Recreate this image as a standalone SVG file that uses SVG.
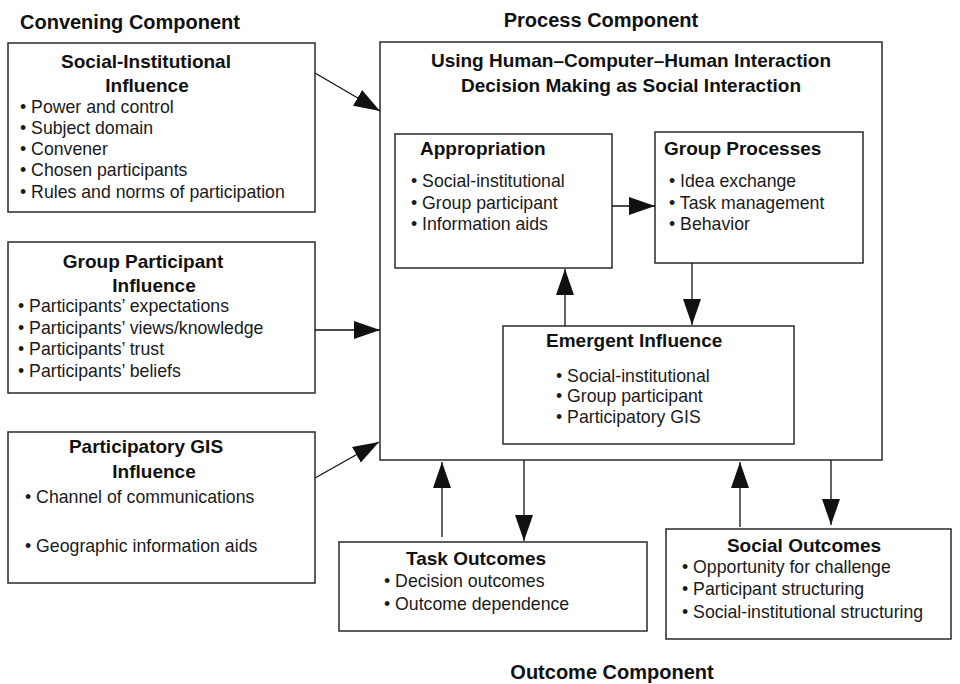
<svg xmlns="http://www.w3.org/2000/svg" width="960" height="684" viewBox="0 0 960 684">
  <style>
    .box { fill: #ffffff; stroke: #2a2a2a; stroke-width: 1.5; }
    .hdr { font-family: "Liberation Sans", Arial, sans-serif; font-size: 20px; font-weight: bold; fill: #111; }
    .ttl { font-family: "Liberation Sans", Arial, sans-serif; font-size: 19px; font-weight: bold; fill: #111; }
    .itm { font-family: "Liberation Sans", Arial, sans-serif; font-size: 17.7px; fill: #1a1a1a; }
    .mid { text-anchor: middle; }
    .link { stroke: #111; stroke-width: 1.3; fill: none; marker-end: url(#head); }
  </style>
  <defs>
    <marker id="head" markerUnits="userSpaceOnUse" markerWidth="26" markerHeight="18" refX="26" refY="9" orient="auto">
      <path d="M0,0 L26,9 L0,18 z" fill="#111"/>
    </marker>
  </defs>

  <rect width="960" height="684" fill="#ffffff"/>

  <!-- section headings -->
  <g id="headings">
    <text class="hdr" x="20" y="29">Convening Component</text>
    <text class="hdr mid" x="601" y="27">Process Component</text>
    <text class="hdr mid" x="612" y="679">Outcome Component</text>
  </g>

  <!-- convening inputs -->
  <g id="social-institutional">
    <rect class="box" x="8" y="43" width="307" height="169"/>
    <text class="ttl mid" x="146" y="68">Social-Institutional</text>
    <text class="ttl mid" x="147" y="92">Influence</text>
    <text class="itm" x="20" y="113">• Power and control</text>
    <text class="itm" x="20" y="134">• Subject domain</text>
    <text class="itm" x="20" y="155">• Convener</text>
    <text class="itm" x="20" y="176">• Chosen participants</text>
    <text class="itm" x="20" y="198">• Rules and norms of participation</text>
  </g>

  <g id="group-participant">
    <rect class="box" x="8" y="242" width="307" height="151"/>
    <text class="ttl mid" x="143" y="268">Group Participant</text>
    <text class="ttl mid" x="154" y="292">Influence</text>
    <text class="itm" x="18" y="312">• Participants’ expectations</text>
    <text class="itm" x="18" y="334">• Participants’ views/knowledge</text>
    <text class="itm" x="18" y="355">• Participants’ trust</text>
    <text class="itm" x="18" y="377">• Participants’ beliefs</text>
  </g>

  <g id="participatory-gis">
    <rect class="box" x="8" y="432" width="307" height="151"/>
    <text class="ttl mid" x="146" y="453">Participatory GIS</text>
    <text class="ttl mid" x="154" y="478">Influence</text>
    <text class="itm" x="25" y="503">• Channel of communications</text>
    <text class="itm" x="25" y="552">• Geographic information aids</text>
  </g>

  <!-- process component -->
  <g id="process">
    <rect class="box" x="380" y="42" width="502" height="418"/>
    <text class="ttl mid" x="631" y="67">Using Human–Computer–Human Interaction</text>
    <text class="ttl mid" x="631" y="92">Decision Making as Social Interaction</text>
  </g>

  <g id="appropriation">
    <rect class="box" x="395" y="134" width="217" height="134"/>
    <text class="ttl" x="420" y="155">Appropriation</text>
    <text class="itm" x="411" y="187">• Social-institutional</text>
    <text class="itm" x="411" y="209">• Group participant</text>
    <text class="itm" x="411" y="230">• Information aids</text>
  </g>

  <g id="group-processes">
    <rect class="box" x="655" y="132" width="208" height="131"/>
    <text class="ttl" x="664" y="155">Group Processes</text>
    <text class="itm" x="669" y="187">• Idea exchange</text>
    <text class="itm" x="669" y="209">• Task management</text>
    <text class="itm" x="669" y="230">• Behavior</text>
  </g>

  <g id="emergent-influence">
    <rect class="box" x="503" y="326" width="291" height="118"/>
    <text class="ttl" x="546" y="347">Emergent Influence</text>
    <text class="itm" x="556" y="382">• Social-institutional</text>
    <text class="itm" x="556" y="402">• Group participant</text>
    <text class="itm" x="556" y="423">• Participatory GIS</text>
  </g>

  <!-- outcomes -->
  <g id="task-outcomes">
    <rect class="box" x="339" y="542" width="308" height="89"/>
    <text class="ttl mid" x="476" y="565">Task Outcomes</text>
    <text class="itm" x="384" y="587">• Decision outcomes</text>
    <text class="itm" x="384" y="610">• Outcome dependence</text>
  </g>

  <g id="social-outcomes">
    <rect class="box" x="666" y="529" width="285" height="110"/>
    <text class="ttl mid" x="804" y="552">Social Outcomes</text>
    <text class="itm" x="682" y="573">• Opportunity for challenge</text>
    <text class="itm" x="682" y="595">• Participant structuring</text>
    <text class="itm" x="682" y="618">• Social-institutional structuring</text>
  </g>

  <!-- connectors -->
  <g id="connectors">
    <line class="link" x1="315" y1="73" x2="380" y2="111"/>
    <line class="link" x1="315" y1="330" x2="380" y2="330"/>
    <line class="link" x1="315" y1="478" x2="379" y2="442"/>
    <line class="link" x1="612" y1="206" x2="655" y2="206"/>
    <line class="link" x1="692" y1="263" x2="692" y2="325"/>
    <line class="link" x1="565" y1="326" x2="565" y2="269"/>
    <line class="link" x1="442" y1="537" x2="442" y2="462"/>
    <line class="link" x1="524" y1="460" x2="524" y2="541"/>
    <line class="link" x1="740" y1="527" x2="740" y2="462"/>
    <line class="link" x1="831" y1="460" x2="831" y2="525"/>
  </g>
</svg>
